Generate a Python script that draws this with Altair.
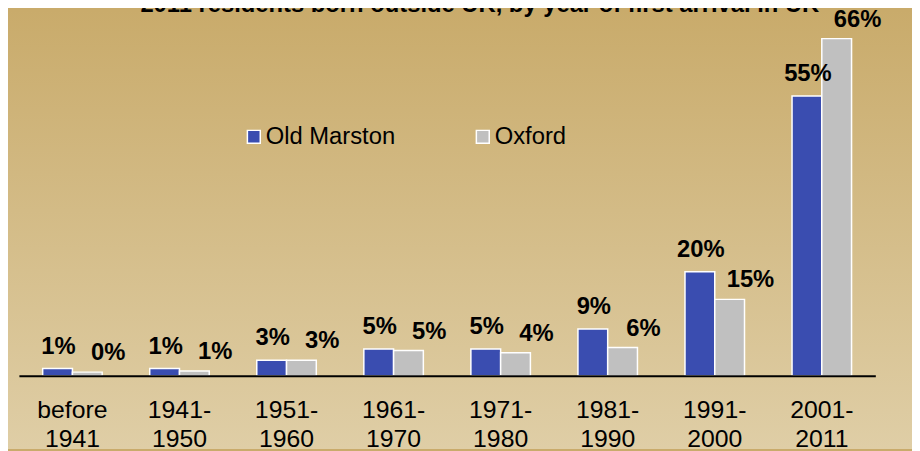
import altair as alt
import pandas as pd

categories = ["before 1941", "1941-1950", "1951-1960", "1961-1970",
              "1971-1980", "1981-1990", "1991-2000", "2001-2011"]
series = ["Old Marston", "Oxford"]
old_marston = [1.4, 1.4, 3.0, 5.2, 5.2, 9.1, 20.3, 54.6]
oxford = [0.7, 0.9, 3.0, 4.9, 4.5, 5.5, 14.9, 65.8]
old_marston_labels = ["1%", "1%", "3%", "5%", "5%", "9%", "20%", "55%"]
oxford_labels = ["0%", "1%", "3%", "5%", "4%", "6%", "15%", "66%"]
title_text = "2011 residents born outside UK, by year of first arrival in UK"
colors = ["#3A4DB0", "#C0C0C0"]

rows = []
for i, c in enumerate(categories):
    rows.append({"period": c, "area": series[0], "share": old_marston[i], "label": old_marston_labels[i]})
    rows.append({"period": c, "area": series[1], "share": oxford[i], "label": oxford_labels[i]})
df = pd.DataFrame(rows)

W, H = 864, 369
FONT = "Liberation Sans"

x_enc = alt.X(
    "period:N", sort=categories, title=None,
    scale=alt.Scale(paddingInner=0.444, paddingOuter=0.222),
    axis=alt.Axis(
        domainColor="black", domainWidth=2, ticks=False, grid=False, zindex=2,
        labelAngle=0, labelFont=FONT, labelFontSize=25, labelColor="black",
        labelPadding=42, labelLineHeight=29, labelBaseline="alphabetic",
        labelExpr="indexof(datum.label, ' ') > 0 ? split(datum.label, ' ') : "
                  "[slice(datum.label, 0, 5), slice(datum.label, 5)]",
    ),
)
xoff_enc = alt.XOffset("area:N", sort=series,
                       scale=alt.Scale(domain=series, paddingInner=0, paddingOuter=0))
y_enc = alt.Y("share:Q", scale=alt.Scale(domain=[0, 71.4], nice=False, zero=True), axis=None)

bg = alt.Chart(alt.Data(values=[{}])).mark_rect(
    fill=alt.Gradient(
        gradient="linear",
        stops=[alt.GradientStop(color="#C9AB6B", offset=0),
               alt.GradientStop(color="#DFCEA6", offset=1)],
        x1=0, x2=0, y1=0, y2=1,
    )
).encode(x=alt.value(-11), x2=alt.value(901), y=alt.value(0), y2=alt.value(443))

base = alt.Chart(df)

bars = base.mark_bar(stroke="white", strokeWidth=1.5).encode(
    x=x_enc, xOffset=xoff_enc, y=y_enc,
    color=alt.Color(
        "area:N", sort=series,
        scale=alt.Scale(domain=series, range=colors),
        legend=alt.Legend(
            title=None, orient="none", legendX=225, legendY=116,
            direction="horizontal", symbolType="square", symbolSize=169,
            symbolStrokeColor="white", symbolStrokeWidth=1.5, symbolOpacity=1,
            labelFont=FONT, labelFontSize=24, labelColor="black",
            labelOffset=0, columnPadding=76, padding=0,
        ),
    ),
)

lab_om = base.transform_filter(alt.datum.area == series[0]).mark_text(
    font=FONT, fontSize=24, fontWeight="bold", color="black",
    baseline="alphabetic", dy=-15, dx=1,
).encode(x=x_enc, xOffset=xoff_enc, y=y_enc, text="label:N")

lab_ox = base.transform_filter(alt.datum.area == series[1]).mark_text(
    font=FONT, fontSize=24, fontWeight="bold", color="black",
    baseline="alphabetic", dy=-12, dx=21,
).encode(x=x_enc, xOffset=xoff_enc, y=y_enc, text="label:N")

chart = alt.layer(bg, bars, lab_om, lab_ox).properties(
    width=W, height=H,
    padding={"left": 11, "top": 0, "right": 37, "bottom": 74},
    autosize=alt.AutoSizeParams(type="none"),
    title=alt.TitleParams(title_text, font=FONT, fontSize=24, fontWeight="bold",
                          color="black", anchor="middle", dx=33, offset=-9),
).configure(background="#C9AB6B").configure_view(stroke=None)

chart.save("out.html", embed_options={"renderer": "svg", "actions": False})
